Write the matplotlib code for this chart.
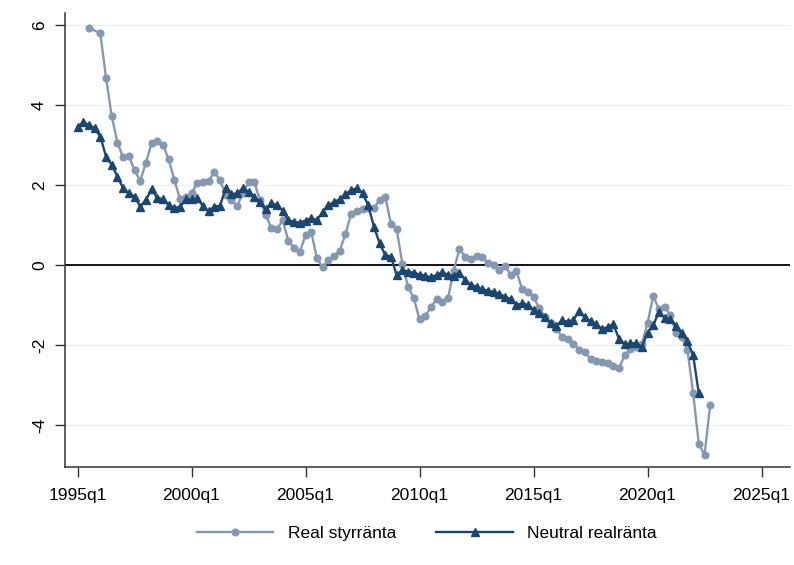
import numpy as np
import pandas as pd
import matplotlib
matplotlib.use("Agg")
import matplotlib.pyplot as plt

plt.rcParams['font.family'] = ['Liberation Sans', 'DejaVu Sans']

# Quarterly data starting 1995q1 (None = no observation)
real_rate = [
    None, None, 5.93, None, 5.79, 4.68, 3.72, 3.06, 2.69, 2.72,
    2.37, 2.10, 2.56, 3.04, 3.10, 3.00, 2.64, 2.12, 1.64, 1.71,
    1.80, 2.04, 2.07, 2.10, 2.32, 2.12, 1.75, 1.63, 1.48, 1.79,
    2.07, 2.08, 1.62, 1.25, 0.93, 0.90, 1.12, 0.60, 0.43, 0.32,
    0.75, 0.82, 0.17, -0.06, 0.13, 0.22, 0.36, 0.77, 1.28, 1.35,
    1.39, 1.43, 1.42, 1.63, 1.70, 1.02, 0.89, 0.02, -0.55, -0.83,
    -1.36, -1.27, -1.06, -0.85, -0.93, -0.82, -0.15, 0.41, 0.20, 0.14,
    0.22, 0.21, 0.04, 0.01, -0.12, -0.03, -0.24, -0.14, -0.61, -0.67,
    -0.80, -1.08, -1.29, -1.45, -1.60, -1.79, -1.86, -1.97, -2.12, -2.17,
    -2.36, -2.39, -2.42, -2.46, -2.52, -2.57, -2.26, -2.10, -2.05, -1.98,
    -1.45, -0.78, -1.10, -1.04, -1.26, -1.69, -1.80, -2.12, -3.19, -4.47,
    -4.75, -3.50,
]

neutral_rate = [
    3.46, 3.57, 3.50, 3.42, 3.21, 2.71, 2.50, 2.21, 1.92, 1.79,
    1.71, 1.46, 1.63, 1.90, 1.67, 1.65, 1.50, 1.42, 1.46, 1.64,
    1.64, 1.67, 1.47, 1.35, 1.46, 1.48, 1.92, 1.77, 1.79, 1.92,
    1.83, 1.69, 1.58, 1.39, 1.54, 1.50, 1.36, 1.12, 1.08, 1.06,
    1.11, 1.17, 1.12, 1.33, 1.50, 1.57, 1.65, 1.77, 1.87, 1.92,
    1.80, 1.49, 0.96, 0.54, 0.25, 0.21, -0.26, -0.12, -0.17, -0.19,
    -0.24, -0.27, -0.31, -0.25, -0.18, -0.25, -0.27, -0.19, -0.37, -0.50,
    -0.54, -0.61, -0.64, -0.67, -0.72, -0.79, -0.86, -1.00, -0.96, -1.00,
    -1.12, -1.19, -1.31, -1.45, -1.53, -1.38, -1.42, -1.37, -1.15, -1.31,
    -1.40, -1.48, -1.60, -1.55, -1.48, -1.85, -1.98, -1.96, -1.95, -2.05,
    -1.69, -1.51, -1.17, -1.33, -1.36, -1.53, -1.71, -1.91, -2.25, -3.21,
]

tick_labels = ['1995q1', '2000q1', '2005q1', '2010q1', '2015q1', '2020q1', '2025q1']
y_ticks = [-4, -2, 0, 2, 4, 6]

light = '#8499b1'
dark = '#1a476f'

real = pd.Series(real_rate, dtype=float).dropna()
neutral = pd.Series(neutral_rate, dtype=float)

fig = plt.figure(figsize=(7.94, 5.65), dpi=100)
ax = fig.add_axes([65/794, 1 - 467/565, 725/794, 454/565])

for y in y_ticks:
    if y != 0:
        ax.axhline(y, color='#e8f0f2', lw=0.9, zorder=0)
ax.axhline(0, color='black', lw=1.3, zorder=1)

ax.plot(real.index, real.values, color=light, lw=1.7, marker='o',
        markersize=4.8, label='Real styrränta', zorder=2)
ax.plot(neutral.index, neutral.values, color=dark, lw=1.7, marker='^',
        markersize=5.8, label='Neutral realränta', zorder=3)

ax.set_xlim(-2.2, 125)
ax.set_ylim(-5.05, 6.3)
ax.set_xticks(range(0, 121, 20))
ax.set_xticklabels(tick_labels, fontsize=12.5)
ax.set_yticks(y_ticks)
ax.set_yticklabels([str(v) for v in y_ticks], fontsize=12.5, rotation=90, va='center')
ax.tick_params(direction='out', length=7, width=1, color='#333333')
ax.tick_params(axis='x', pad=8)
ax.tick_params(axis='y', pad=6)

for side in ['top', 'right']:
    ax.spines[side].set_visible(False)
for side in ['left', 'bottom']:
    ax.spines[side].set_linewidth(1.1)
    ax.spines[side].set_color('#333333')

fig.legend(loc='center', bbox_to_anchor=(427/794, 1 - 533/565), ncol=2,
           frameon=False, fontsize=12.5, handlelength=4.4, handletextpad=0.85,
           columnspacing=2.3)

fig.savefig('out.png', dpi=100)
